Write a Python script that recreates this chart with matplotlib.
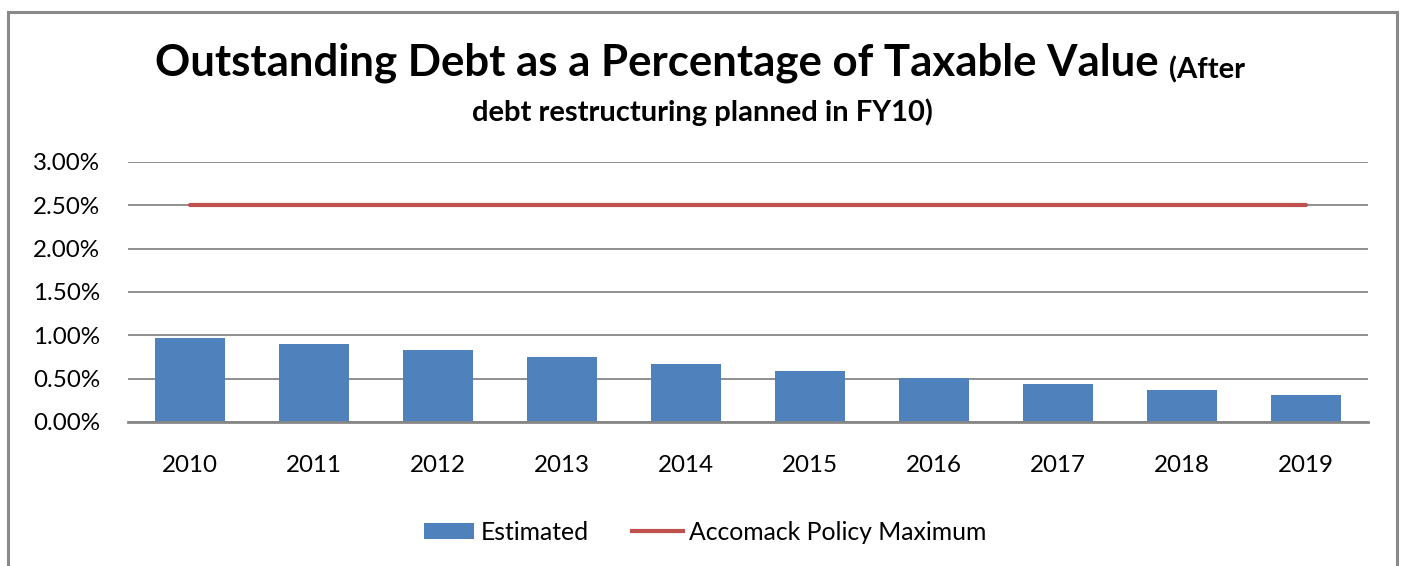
import matplotlib.pyplot as plt
from matplotlib.patches import Rectangle, Patch
from matplotlib.lines import Line2D
from matplotlib.ticker import FuncFormatter

# fiscal years and debt ratio (percent of taxable value)
years = ["2010", "2011", "2012", "2013", "2014", "2015", "2016", "2017", "2018", "2019"]
estimated = [0.971, 0.905, 0.836, 0.755, 0.674, 0.593, 0.512, 0.439, 0.365, 0.316]
policy_max = [2.50] * len(years)
y_ticks = [0.0, 0.5, 1.0, 1.5, 2.0, 2.5, 3.0]

W, H = 1406, 566
plt.rcParams['font.family'] = ['Lato', 'DejaVu Sans']

fig = plt.figure(figsize=(W / 100, H / 100), dpi=100)

# chart border
fig.patches.append(Rectangle((8 / W, -0.1), (1397 - 8) / W, 1.1 - 12 / H,
                             transform=fig.transFigure, fill=False,
                             edgecolor="#898989", linewidth=2.2))

ax = fig.add_axes([128 / W, 1 - 422 / H, (1368 - 128) / W, (422 - 162) / H])
x = list(range(len(years)))
ax.bar(x, estimated, width=0.57, color="#4F81BD", zorder=2)
ax.plot(x, policy_max, color="#C0504D", linewidth=3, zorder=3, solid_capstyle="round")

ax.set_xlim(-0.5, len(years) - 0.5)
ax.set_ylim(0, 3.0)
ax.set_yticks(y_ticks)
ax.yaxis.set_major_formatter(FuncFormatter(lambda v, p: f"{v:.2f}%"))
ax.set_xticks(x)
ax.set_xticklabels(years)
ax.grid(axis="y", color="#878787", linewidth=1.3, zorder=0)
for s in ["left", "right", "top"]:
    ax.spines[s].set_visible(False)
ax.spines["bottom"].set_color("#878787")
ax.spines["bottom"].set_linewidth(2)
ax.tick_params(axis="y", length=0, pad=20, labelsize=17.4)
ax.tick_params(axis="x", length=0, pad=24, labelsize=17.4)

# two-line title with a smaller trailing note
t1 = fig.text(155 / W, 1 - 63 / H, "Outstanding Debt as a Percentage of Taxable Value",
              fontsize=31.5, fontweight="bold", ha="left", va="center")
fig.canvas.draw()
bb = t1.get_window_extent()
fig.text((bb.x1 + 10) / W, 1 - 70 / H, "(After", fontsize=21, fontweight="bold",
         ha="left", va="center")
fig.text(702 / W, 1 - 112 / H, "debt restructuring planned in FY10)", fontsize=21,
         fontweight="bold", ha="center", va="center")

handles = [Patch(facecolor="#4F81BD", label="Estimated"),
           Line2D([0], [0], color="#C0504D", linewidth=3, label="Accomack Policy Maximum")]
fig.legend(handles=handles, loc="center", bbox_to_anchor=(705 / W, 1 - 532 / H), ncol=2,
           frameon=False, fontsize=17.8, handlelength=2.05, handleheight=0.65,
           handletextpad=0.25, columnspacing=1.75)

fig.savefig("out.png", dpi=100)
